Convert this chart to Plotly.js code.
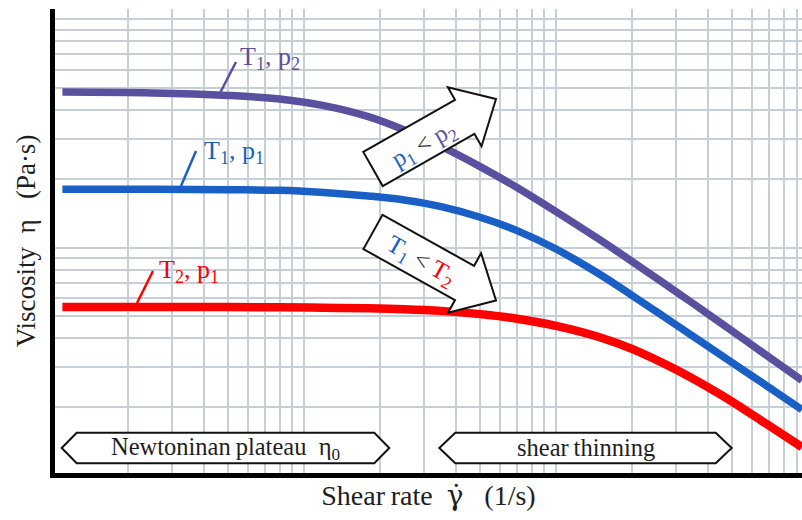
<!DOCTYPE html>
<html>
<head>
<meta charset="utf-8">
<script src="https://cdn.plot.ly/plotly-3.0.1.min.js"></script>
<style>
  html, body { margin: 0; padding: 0; background: #ffffff; }
  #chart { width: 802px; height: 520px; }
</style>
</head>
<body>
<div id="chart"></div>
<script>
// Shear rate samples (1/s)
const shearRate = [1.1, 2.5, 5, 8, 12, 18, 25, 35, 50, 70, 100, 150, 200, 300, 450, 650, 946];

// Viscosity (Pa·s) for each temperature / pressure state
const etaT1p2 = [4.79, 4.75, 4.63, 4.47, 4.18, 3.74, 3.27, 2.77, 2.26, 1.83, 1.435, 1.076, 0.870, 0.640, 0.468, 0.351, 0.262];
const etaT1p1 = [1.80, 1.80, 1.79, 1.78, 1.74, 1.68, 1.615, 1.510, 1.357, 1.186, 0.985, 0.760, 0.618, 0.458, 0.339, 0.258, 0.195];
const etaT2p1 = [0.549, 0.549, 0.549, 0.547, 0.545, 0.542, 0.537, 0.528, 0.511, 0.488, 0.454, 0.404, 0.360, 0.2916, 0.2268, 0.1752, 0.1338];

const seriesNames  = ['T<sub>1</sub>, p<sub>2</sub>', 'T<sub>1</sub>, p<sub>1</sub>', 'T<sub>2</sub>, p<sub>1</sub>'];
const seriesColors = ['#5a50a0', '#1a5fc6', '#ff0000'];
const seriesData   = [etaT1p2, etaT1p1, etaT2p1];

const regionLabels = ['Newtoninan\u2009plateau\u2002η<sub>0</sub>', 'shear\u2009thinning'];

// ---- geometry helpers (pixel -> paper) ----
const M = { l: 55, r: 0, t: 9, b: 47 };
const W = 802, H = 520;
const PW = W - M.l - M.r, PH = H - M.t - M.b;
const fx = x => (x - M.l) / PW;
const fy = y => (H - M.b - y) / PH;
const pathOf = pts => 'M ' + pts.map(p => fx(p[0]).toFixed(5) + ',' + fy(p[1]).toFixed(5)).join(' L ') + ' Z';

// outlined block arrow from a tail centre to a tip (pixels)
function blockArrow(tail, tip, bodyHalf, headHalf, headLen) {
  const dx = tip[0] - tail[0], dy = tip[1] - tail[1];
  const L = Math.hypot(dx, dy), ux = dx / L, uy = dy / L, nx = -uy, ny = ux;
  const bx = tail[0] + ux * (L - headLen), by = tail[1] + uy * (L - headLen);
  const pts = [
    [tail[0] + nx * bodyHalf, tail[1] + ny * bodyHalf],
    [bx + nx * bodyHalf, by + ny * bodyHalf],
    [bx + nx * headHalf, by + ny * headHalf],
    tip,
    [bx - nx * headHalf, by - ny * headHalf],
    [bx - nx * bodyHalf, by - ny * bodyHalf],
    [tail[0] - nx * bodyHalf, tail[1] - ny * bodyHalf]
  ];
  return {
    type: 'path', xref: 'paper', yref: 'paper', layer: 'above',
    path: pathOf(pts), fillcolor: '#ffffff', line: { color: '#111111', width: 2 }
  };
}

// flat hexagonal tag spanning x0..x1 (pixels)
function hexTag(x0, x1, yc, h, bevel) {
  const pts = [[x0, yc], [x0 + bevel, yc - h / 2], [x1 - bevel, yc - h / 2], [x1, yc], [x1 - bevel, yc + h / 2], [x0 + bevel, yc + h / 2]];
  return {
    type: 'path', xref: 'paper', yref: 'paper', layer: 'above',
    path: pathOf(pts), fillcolor: '#ffffff', line: { color: '#111111', width: 2 }
  };
}

function whiteBox(x0, y0, x1, y1) {
  return { type: 'rect', xref: 'paper', yref: 'paper', layer: 'between',
    x0: fx(x0), x1: fx(x1), y0: fy(y1), y1: fy(y0), fillcolor: '#ffffff', line: { width: 0 } };
}

function leader(x0, y0, x1, y1, color) {
  return { type: 'line', xref: 'paper', yref: 'paper', layer: 'above',
    x0: fx(x0), y0: fy(y0), x1: fx(x1), y1: fy(y1), line: { color: color, width: 2.5 } };
}

const serif = 'Liberation Serif, Times New Roman, serif';
const GRID = '#c6ced7';

const traces = seriesData.map((eta, i) => ({
  type: 'scatter', mode: 'lines',
  x: shearRate, y: eta, name: seriesNames[i],
  line: { color: seriesColors[i], width: i === 2 ? 8.5 : 7.5, shape: 'spline', smoothing: 1 },
  hoverinfo: 'skip'
}));

function note(px, py, text, size, color, angle, xanchor) {
  return {
    xref: 'paper', yref: 'paper', x: fx(px), y: fy(py),
    xanchor: xanchor || 'center', yanchor: 'middle', showarrow: false,
    textangle: angle || 0, text: text, font: { family: serif, size: size, color: color }
  };
}

// curve labels (pixel anchor: left edge, vertical centre)
const labelPos = [[238, 58], [202, 152], [157, 271]];
const annotations = seriesNames.map((t, i) => note(labelPos[i][0], labelPos[i][1], t, 26, seriesColors[i], 0, 'left'));

annotations.push(note(424, 146,
  '<span style="color:#1a5fc6">p<sub>1</sub></span> <span style="color:#333333">&lt;</span> <span style="color:#5a50a0">p<sub>2</sub></span>',
  25, '#333333', -29.6));
annotations.push(note(421, 261,
  '<span style="color:#1a5fc6">T<sub>1</sub></span> <span style="color:#333333">&lt;</span> <span style="color:#ff0000">T<sub>2</sub></span>',
  25, '#333333', 29.6));
annotations.push(note(225, 448, regionLabels[0], 24.5, '#1e1e1e'));
annotations.push(note(586, 447, regionLabels[1], 24.5, '#1e1e1e'));

const shapes = [
  whiteBox(219, 34, 322, 79),
  whiteBox(134, 123, 287, 178),
  whiteBox(137, 247, 240, 293),
  leader(236, 62, 220, 93, seriesColors[0]),
  leader(196, 151, 181, 186, seriesColors[1]),
  leader(153, 271, 137, 303, seriesColors[2]),
  blockArrow([373, 169], [496, 99], 19.6, 34, 36),
  blockArrow([373, 232], [496, 300.5], 19.6, 34, 36),
  hexTag(61.7, 389.3, 448, 30.6, 15),
  hexTag(439.3, 731.7, 448, 30.6, 16)
];

const axisCommon = {
  type: 'log', dtick: 'D1', showgrid: true, gridcolor: GRID, gridwidth: 2,
  showline: true, linecolor: '#000000', linewidth: 5, mirror: false,
  showticklabels: false, ticks: '', zeroline: false, fixedrange: true
};

const layout = {
  width: W, height: H, margin: M,
  paper_bgcolor: '#ffffff', plot_bgcolor: '#ffffff',
  showlegend: false, hovermode: false,
  xaxis: Object.assign({}, axisCommon, {
    range: [0.012, 2.976],
    title: {
      text: '\u2002Shear\u2009rate\u2002<span style="font-family:DejaVu Serif">γ\u0307</span>\u2002 (1/s)',
      font: { family: serif, size: 28, color: '#1e1e1e' }, standoff: 10
    }
  }),
  yaxis: Object.assign({}, axisCommon, {
    range: [-0.987, 1.044],
    title: { text: 'Viscosity\u2002η\u2002 (Pa·s)', font: { family: serif, size: 27, color: '#1e1e1e' }, standoff: 8 }
  }),
  shapes: shapes,
  annotations: annotations
};

Plotly.newPlot('chart', traces, layout, { displayModeBar: false, staticPlot: true });
</script>
</body>
</html>
